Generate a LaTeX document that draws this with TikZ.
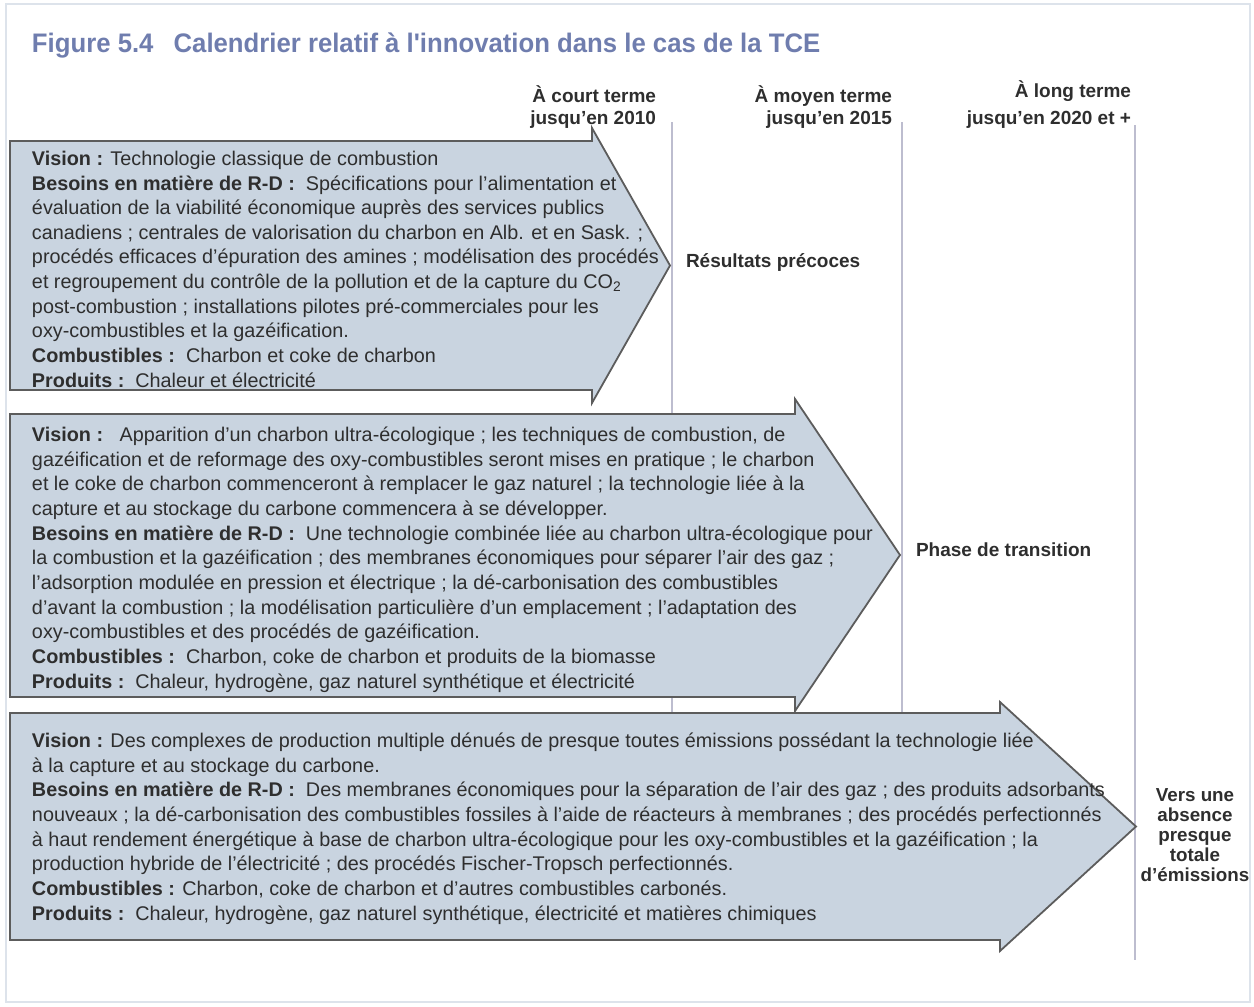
\documentclass[tikz,border=0pt]{standalone}
\usepackage{fontspec}
\setmainfont{Liberation Sans}
\setsansfont{Liberation Sans}
\newfontfamily\titlefont[FakeStretch=0.96]{Liberation Sans}
\usetikzlibrary{positioning, calc}

\begin{document}
\begin{tikzpicture}[
    x=0.5pt, y=-0.5pt,
    every node/.style={font=\sffamily, inner sep=0pt, outer sep=0pt},
    boxtext/.style={anchor=north west, align=left, text=textcolor,
        font=\sffamily\fontsize{9.9}{12.33}\selectfont},
    colhead/.style={anchor=north east, align=right, text=textcolor,
        font=\sffamily\bfseries\fontsize{9.5}{10.6}\selectfont},
    phase/.style={text=textcolor, font=\sffamily\bfseries\fontsize{9.5}{10}\selectfont},
    arrowbox/.style={fill=arrowfill, draw=arrowedge, line width=0.9pt, line join=miter},
    divider/.style={draw=divcolor, line width=1pt},
]

\definecolor{titlecolor}{HTML}{6F7DAE}
\definecolor{textcolor}{HTML}{2E2E2E}
\definecolor{arrowfill}{HTML}{C9D4E0}
\definecolor{arrowedge}{HTML}{5C5C5C}
\definecolor{divcolor}{HTML}{BDBDCF}
\definecolor{framecolor}{HTML}{DDE3EB}

% pixel grid of the page, y going down
\useasboundingbox (0,0) rectangle (1254,1007);
\draw[framecolor, line width=0.8pt] (6,4) rectangle (1250,1002);

% ------------------------------------------------------------ title
\node[anchor=base west, text=titlecolor, font=\titlefont\bfseries\fontsize{13.4}{15}\selectfont]
    (title) at (32,52) {Figure 5.4\hspace{0.75em}Calendrier relatif à l'innovation dans le cas de la TCE};

% ------------------------------------------------------------ time columns
\node[colhead] (court) at (656,86) {À court terme\\jusqu'en 2010};
\node[colhead] (moyen) at (892,86) {À moyen terme\\jusqu'en 2015};
\node[colhead] (long)  at (1131,81) {À long terme\\[2.5pt]jusqu'en 2020 et +};

\coordinate (d1top) at (672,122);  \coordinate (d1bot) at (672,714);
\coordinate (d2top) at (902,122);  \coordinate (d2bot) at (902,714);
\coordinate (d3top) at (1135,125); \coordinate (d3bot) at (1135,960);
\foreach \d in {d1, d2, d3}
    \draw[divider] (\d top) -- (\d bot);

% ------------------------------------------------------------ the three arrows
\draw[arrowbox] (10,141) -- (592,141) -- (592,128) -- (670,265.5)
    -- (592,403) -- (592,390) -- (10,390) -- cycle;
\draw[arrowbox] (10,414) -- (795,414) -- (795,399) -- (900,555)
    -- (795,711) -- (795,697) -- (10,697) -- cycle;
\draw[arrowbox] (10,713) -- (1000,713) -- (1000,702) -- (1136,826.5)
    -- (1000,951) -- (1000,940) -- (10,940) -- cycle;

% ------------------------------------------------------------ arrow texts
\node[boxtext] (court text) at (32,151) {%
    \textbf{Vision :} Technologie classique de combustion\\
    \textbf{Besoins en matière de R-D :}\ \ Spécifications pour l'alimentation et\\
    évaluation de la viabilité économique auprès des services publics\\
    canadiens ; centrales de valorisation du charbon en Alb. et en Sask. ;\\
    procédés efficaces d'épuration des amines ; modélisation des procédés\\
    et regroupement du contrôle de la pollution et de la capture du CO\textsubscript{2}\\
    post-combustion ; installations pilotes pré-commerciales pour les\\
    oxy-combustibles et la gazéification.\\
    \textbf{Combustibles :}\ \ Charbon et coke de charbon\\
    \textbf{Produits :}\ \ Chaleur et électricité};

\node[boxtext] (moyen text) at (32,427) {%
    \textbf{Vision :}\ \ \ Apparition d'un charbon ultra-écologique ; les techniques de combustion, de\\
    gazéification et de reformage des oxy-combustibles seront mises en pratique ; le charbon\\
    et le coke de charbon commenceront à remplacer le gaz naturel ; la technologie liée à la\\
    capture et au stockage du carbone commencera à se développer.\\
    \textbf{Besoins en matière de R-D :}\ \ Une technologie combinée liée au charbon ultra-écologique pour\\
    la combustion et la gazéification ; des membranes économiques pour séparer l'air des gaz ;\\
    l'adsorption modulée en pression et électrique ; la dé-carbonisation des combustibles\\
    d'avant la combustion ; la modélisation particulière d'un emplacement ; l'adaptation des\\
    oxy-combustibles et des procédés de gazéification.\\
    \textbf{Combustibles :}\ \ Charbon, coke de charbon et produits de la biomasse\\
    \textbf{Produits :}\ \ Chaleur, hydrogène, gaz naturel synthétique et électricité};

\node[boxtext] (long text) at (32,733) {%
    \textbf{Vision :} Des complexes de production multiple dénués de presque toutes émissions possédant la technologie liée\\
    à la capture et au stockage du carbone.\\
    \textbf{Besoins en matière de R-D :}\ \ Des membranes économiques pour la séparation de l'air des gaz ; des produits adsorbants\\
    nouveaux ; la dé-carbonisation des combustibles fossiles à l'aide de réacteurs à membranes ; des procédés perfectionnés\\
    à haut rendement énergétique à base de charbon ultra-écologique pour les oxy-combustibles et la gazéification ; la\\
    production hybride de l'électricité ; des procédés Fischer-Tropsch perfectionnés.\\
    \textbf{Combustibles :} Charbon, coke de charbon et d'autres combustibles carbonés.\\
    \textbf{Produits :}\ \ Chaleur, hydrogène, gaz naturel synthétique, électricité et matières chimiques};

% ------------------------------------------------------------ outcomes
\node[phase, anchor=west] (precoce) at (686,262) {Résultats précoces};
\node[phase, anchor=west] (transition) at (916,550) {Phase de transition};
\node[phase, anchor=north, align=center, font=\sffamily\bfseries\fontsize{9.4}{10}\selectfont]
    (absence) at (1195,789) {Vers une\\absence\\presque\\totale\\d'émissions};

\end{tikzpicture}
\end{document}
